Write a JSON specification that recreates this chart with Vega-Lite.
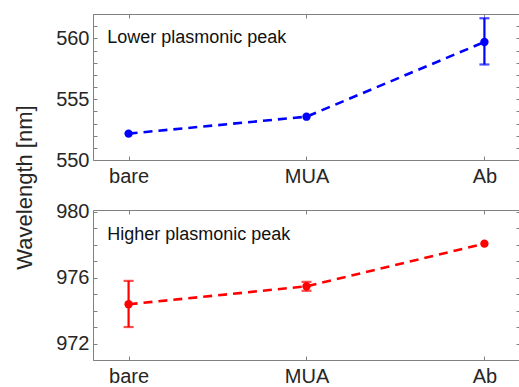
{
  "$schema": "https://vega.github.io/schema/vega-lite/v6.json",
  "padding": {"left": 12, "top": 13, "right": 0, "bottom": 0},
  "datasets": {
    "lower": [
      {"pos": 1, "cond": "bare", "wl": 552.17},
      {"pos": 2, "cond": "MUA", "wl": 553.56},
      {"pos": 3, "cond": "Ab", "wl": 559.7, "lo": 557.85, "hi": 561.65}
    ],
    "higher": [
      {"pos": 1, "cond": "bare", "wl": 974.38, "lo": 973.0, "hi": 975.8},
      {"pos": 2, "cond": "MUA", "wl": 975.47, "lo": 975.2, "hi": 975.74},
      {"pos": 3, "cond": "Ab", "wl": 978.06}
    ],
    "notes": [
      {"panel": "lower", "x": 0.88, "y": 560, "text": "Lower plasmonic peak"},
      {"panel": "higher", "x": 0.88, "y": 978.6, "text": "Higher plasmonic peak"}
    ]
  },
  "vconcat": [
    {
      "width": 427,
      "height": 146,
      "data": {"name": "lower"},
      "layer": [
        {
          "mark": {"type": "line", "color": "#0000ff", "strokeWidth": 2.6, "strokeDash": [9, 6]},
          "encoding": {
            "x": {"field": "pos", "type": "quantitative", "scale": {"domain": [0.8, 3.2], "nice": false, "zero": false},
              "axis": {"orient": "bottom", "values": [1, 2, 3], "labelExpr": "['','bare','MUA','Ab'][datum.value]", "title": null}},
            "y": {"field": "wl", "type": "quantitative", "scale": {"domain": [550, 562], "nice": false, "zero": false},
              "axis": {"orient": "left", "values": [550, 551, 552, 553, 554, 555, 556, 557, 558, 559, 560, 561, 562],
                "labelExpr": "datum.value % 5 == 0 ? datum.label : ''",
                "title": "Wavelength [nm]", "titleAngle": -90, "titleX": -69, "titleY": 173, "titleAlign": "center", "titleBaseline": "middle"}}
          }
        },
        {
          "mark": {"type": "point", "filled": true, "size": 70, "color": "#0000ff", "opacity": 1},
          "encoding": {
            "x": {"field": "pos", "type": "quantitative", "axis": {"orient": "top", "values": [1, 2, 3], "labels": false, "title": null}},
            "y": {"field": "wl", "type": "quantitative", "axis": {"orient": "right", "values": [550, 551, 552, 553, 554, 555, 556, 557, 558, 559, 560, 561, 562], "labels": false, "title": null}}
          }
        },
        {
          "transform": [{"filter": "isValid(datum.lo)"}],
          "mark": {"type": "errorbar", "ticks": true, "size": 10, "thickness": 2.2, "color": "#0000ff"},
          "encoding": {
            "x": {"field": "pos", "type": "quantitative", "axis": null},
            "y": {"field": "lo", "type": "quantitative", "axis": null},
            "y2": {"field": "hi"}
          }
        },
        {
          "data": {"name": "notes"},
          "transform": [{"filter": "datum.panel == 'lower'"}],
          "mark": {"type": "text", "align": "left", "baseline": "middle", "fontSize": 18, "color": "#111111"},
          "encoding": {
            "x": {"field": "x", "type": "quantitative", "axis": null},
            "y": {"field": "y", "type": "quantitative", "axis": null},
            "text": {"field": "text"}
          }
        }
      ],
      "resolve": {"axis": {"x": "independent", "y": "independent"}}
    },
    {
      "width": 427,
      "height": 150,
      "data": {"name": "higher"},
      "layer": [
        {
          "mark": {"type": "line", "color": "#ff0000", "strokeWidth": 2.6, "strokeDash": [9, 6]},
          "encoding": {
            "x": {"field": "pos", "type": "quantitative", "scale": {"domain": [0.8, 3.2], "nice": false, "zero": false},
              "axis": {"orient": "bottom", "values": [1, 2, 3], "labelExpr": "['','bare','MUA','Ab'][datum.value]", "title": null}},
            "y": {"field": "wl", "type": "quantitative", "scale": {"domain": [971, 980.1], "nice": false, "zero": false},
              "axis": {"orient": "left", "values": [971, 972, 973, 974, 975, 976, 977, 978, 979, 980],
                "labelExpr": "datum.value % 4 == 0 ? datum.label : ''", "title": null}}
          }
        },
        {
          "mark": {"type": "point", "filled": true, "size": 70, "color": "#ff0000", "opacity": 1},
          "encoding": {
            "x": {"field": "pos", "type": "quantitative", "axis": {"orient": "top", "values": [1, 2, 3], "labels": false, "title": null}},
            "y": {"field": "wl", "type": "quantitative", "axis": {"orient": "right", "values": [971, 972, 973, 974, 975, 976, 977, 978, 979, 980], "labels": false, "title": null}}
          }
        },
        {
          "transform": [{"filter": "isValid(datum.lo)"}],
          "mark": {"type": "errorbar", "ticks": true, "size": 10, "thickness": 2.2, "color": "#ff0000"},
          "encoding": {
            "x": {"field": "pos", "type": "quantitative", "axis": null},
            "y": {"field": "lo", "type": "quantitative", "axis": null},
            "y2": {"field": "hi"}
          }
        },
        {
          "data": {"name": "notes"},
          "transform": [{"filter": "datum.panel == 'higher'"}],
          "mark": {"type": "text", "align": "left", "baseline": "middle", "fontSize": 18, "color": "#111111"},
          "encoding": {
            "x": {"field": "x", "type": "quantitative", "axis": null},
            "y": {"field": "y", "type": "quantitative", "axis": null},
            "text": {"field": "text"}
          }
        }
      ],
      "resolve": {"axis": {"x": "independent", "y": "independent"}}
    }
  ],
  "spacing": 50,
  "bounds": "flush",
  "config": {
    "font": "Liberation Sans",
    "view": {"stroke": "#808080", "strokeWidth": 1},
    "axis": {
      "domain": false,
      "grid": false,
      "ticks": true,
      "tickSize": -4,
      "tickColor": "#808080",
      "tickWidth": 1,
      "labelFontSize": 20,
      "labelColor": "#262626",
      "labelFont": "Liberation Sans",
      "titleFont": "Liberation Sans",
      "titleFontSize": 22,
      "titleFontWeight": "normal",
      "titleColor": "#262626"
    },
    "axisLeft": {"labelPadding": 8},
    "axisBottom": {"labelPadding": 10}
  }
}
